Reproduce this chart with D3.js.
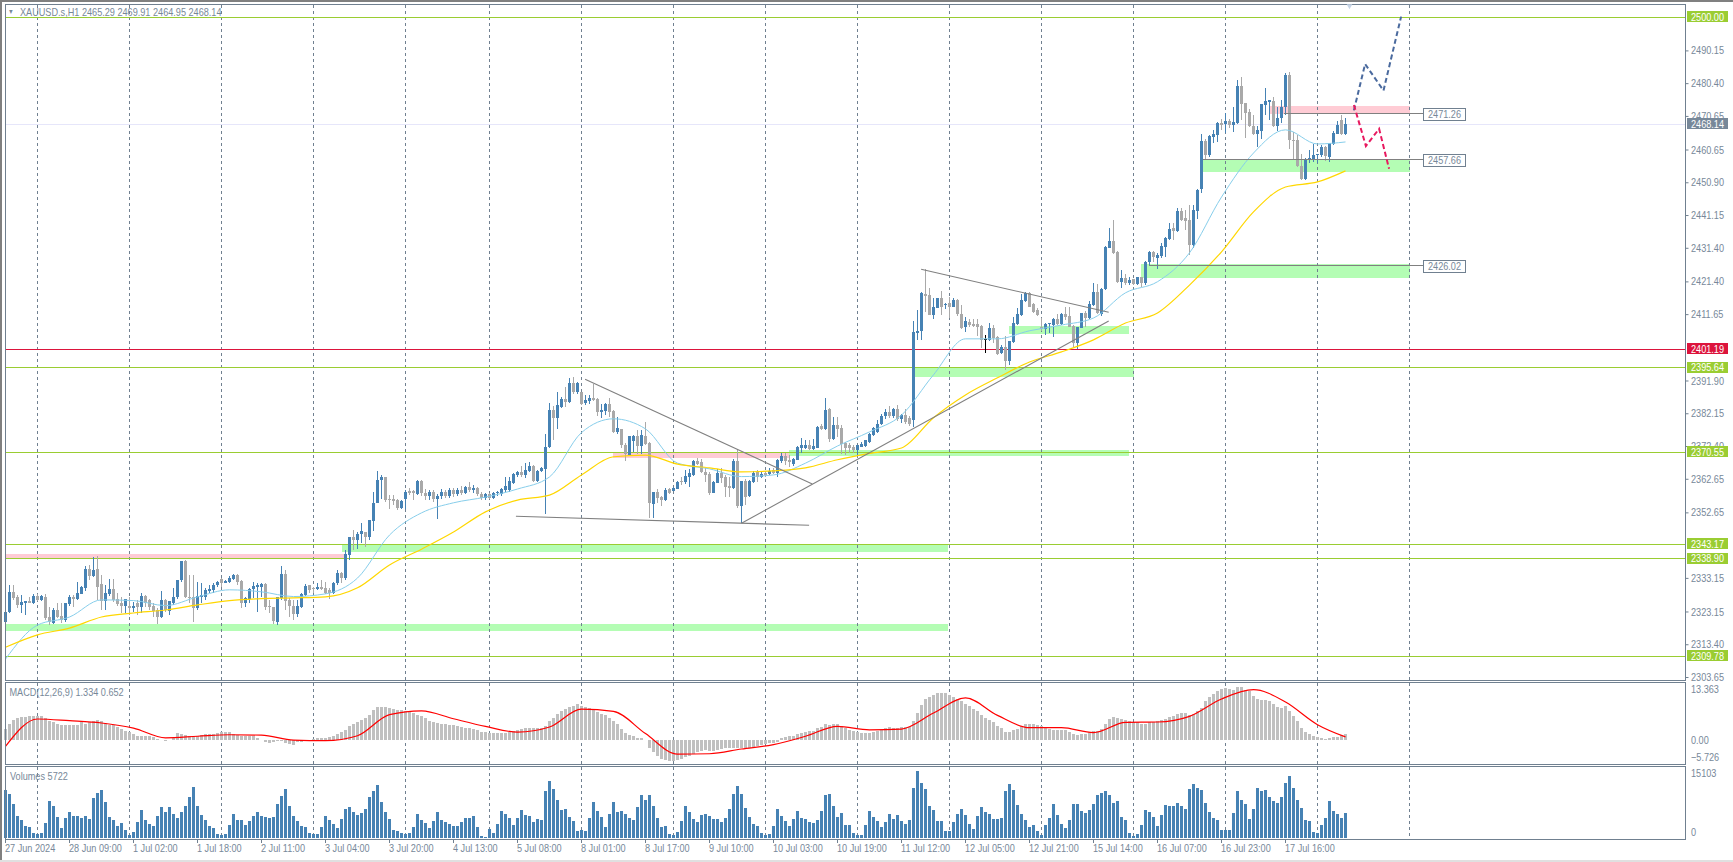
<!DOCTYPE html>
<html>
<head>
<meta charset="utf-8">
<script src="https://cdn.jsdelivr.net/npm/d3@7"></script>
<style>
  html, body { margin: 0; padding: 0; background: #fff; overflow: hidden; }
  text { font-family: "Liberation Sans", sans-serif; font-size: 11px; fill: #778899; }
</style>
</head>
<body>
<script>
// XAUUSD.s H1 rows: open, high, low, close, one row per bar
var candles = [
[2320.1,2323.1,2318.5,2323.1],[2323.1,2331.0,2322.6,2328.9],[2328.9,2331.0,2326.6,2327.3],[2327.6,2328.1,2324.1,2325.1],
[2325.1,2328.1,2322.6,2325.9],[2325.8,2326.2,2322.1,2326.2],[2326.2,2327.6,2325.6,2325.7],[2325.7,2328.4,2325.4,2327.8],
[2327.8,2328.4,2326.4,2326.6],[2326.6,2328.1,2326.4,2327.8],[2327.4,2328.4,2320.6,2321.3],[2321.6,2324.4,2319.1,2320.1],
[2319.8,2324.1,2319.4,2323.6],[2323.6,2325.6,2321.1,2321.6],[2321.8,2325.6,2319.8,2320.6],[2320.6,2325.8,2320.1,2325.8],
[2325.4,2328.1,2324.9,2327.6],[2327.4,2328.1,2324.6,2326.9],[2326.8,2332.0,2326.6,2328.8],[2328.4,2330.6,2328.4,2330.4],
[2330.2,2336.7,2329.1,2335.8],[2335.7,2337.0,2332.5,2333.7],[2333.7,2339.5,2333.5,2335.5],[2335.7,2339.7,2326.6,2330.3],
[2331.3,2334.0,2323.6,2326.4],[2326.4,2331.0,2323.6,2328.6],[2328.4,2332.7,2327.8,2329.9],[2329.9,2332.7,2326.1,2326.6],
[2326.8,2328.6,2324.9,2325.4],[2325.6,2327.6,2322.6,2324.9],[2324.9,2326.8,2322.6,2326.8],[2324.9,2327.6,2322.1,2324.3],
[2324.2,2326.1,2323.1,2324.8],[2325.6,2326.6,2322.1,2324.6],[2324.6,2328.6,2322.6,2327.8],[2327.8,2328.1,2324.6,2325.6],
[2326.6,2326.8,2323.6,2324.6],[2324.8,2325.6,2321.6,2323.4],[2323.6,2324.1,2319.3,2321.6],[2321.6,2329.1,2321.1,2326.6],
[2326.6,2326.8,2323.1,2323.6],[2323.4,2326.4,2322.1,2326.2],[2325.6,2330.1,2325.1,2327.6],[2327.4,2332.5,2326.8,2332.5],
[2332.5,2338.3,2332.0,2338.3],[2338.3,2338.5,2327.1,2327.4],[2327.6,2334.0,2325.6,2327.1],[2327.6,2334.0,2320.1,2324.1],
[2324.1,2332.0,2323.6,2327.8],[2327.6,2331.7,2325.6,2328.1],[2327.6,2330.1,2326.6,2329.4],[2329.1,2331.0,2328.6,2329.9],
[2329.6,2331.5,2328.8,2331.0],[2330.9,2332.3,2330.5,2332.0],[2332.7,2333.0,2330.5,2331.5],[2331.7,2332.5,2331.5,2332.2],
[2332.0,2333.7,2331.7,2333.1],[2332.7,2334.3,2332.5,2334.1],[2334.1,2334.3,2331.0,2332.0],[2332.2,2332.5,2324.1,2325.6],
[2325.8,2327.6,2324.6,2327.1],[2326.8,2330.1,2325.6,2329.9],[2329.8,2332.0,2327.1,2330.7],[2330.3,2331.5,2323.1,2330.9],
[2330.4,2331.5,2327.6,2331.2],[2331.2,2331.5,2323.6,2324.6],[2324.8,2326.6,2322.6,2324.4],[2324.4,2324.4,2319.3,2320.3],
[2320.1,2327.6,2319.1,2327.4],[2327.1,2336.7,2326.6,2334.3],[2334.3,2335.5,2323.6,2326.4],[2326.6,2327.1,2321.6,2324.8],
[2324.9,2326.6,2320.6,2322.4],[2322.4,2326.6,2321.6,2324.8],[2324.6,2328.8,2324.3,2328.4],[2328.1,2331.3,2327.8,2330.7],
[2330.9,2331.0,2328.6,2329.4],[2330.2,2330.3,2328.6,2329.9],[2329.9,2331.5,2329.6,2330.5],[2330.3,2332.5,2329.6,2329.9],
[2330.1,2332.0,2328.4,2328.6],[2329.4,2330.1,2326.8,2328.6],[2328.8,2332.0,2328.4,2331.5],[2331.5,2335.5,2331.0,2334.7],
[2334.7,2335.0,2331.5,2333.0],[2333.0,2341.5,2332.5,2340.3],[2340.0,2345.2,2338.5,2345.2],[2345.2,2347.4,2341.5,2344.4],
[2344.4,2346.9,2341.7,2346.2],[2346.2,2349.4,2343.5,2347.0],[2346.8,2346.8,2342.3,2345.2],[2345.2,2350.4,2344.4,2350.4],
[2350.2,2358.8,2347.2,2355.5],[2355.5,2365.0,2355.4,2362.3],[2362.3,2363.8,2356.5,2363.2],[2363.2,2363.3,2355.8,2356.3],
[2356.5,2357.8,2353.7,2356.3],[2356.5,2357.8,2354.9,2355.9],[2356.3,2356.5,2353.4,2354.0],[2354.0,2356.3,2353.7,2356.1],
[2356.5,2359.3,2353.6,2358.8],[2359.0,2359.8,2357.8,2358.5],[2359.1,2359.3,2356.3,2358.3],[2358.1,2362.3,2357.8,2362.1],
[2362.1,2362.3,2357.5,2358.5],[2358.5,2359.6,2356.2,2357.6],[2357.6,2359.4,2356.4,2358.7],[2358.7,2359.2,2355.6,2356.6],
[2356.6,2358.2,2350.6,2357.6],[2357.6,2359.6,2356.6,2358.8],[2358.8,2359.2,2356.8,2357.4],[2357.4,2359.8,2356.9,2359.2],
[2359.2,2360.0,2357.2,2358.0],[2358.0,2360.0,2357.4,2359.4],[2359.4,2360.5,2357.8,2358.4],[2358.4,2360.4,2358.0,2360.1],
[2360.3,2361.8,2358.6,2359.2],[2359.2,2360.8,2358.4,2360.0],[2360.0,2360.3,2357.6,2358.0],[2358.0,2358.8,2356.2,2356.9],
[2356.9,2358.4,2356.2,2358.0],[2358.0,2358.5,2356.5,2357.0],[2357.0,2358.8,2356.6,2358.4],[2358.4,2359.0,2357.6,2358.8],
[2358.2,2360.0,2357.6,2359.5],[2359.3,2363.2,2358.6,2360.5],[2359.3,2363.2,2358.8,2362.1],[2361.5,2364.4,2361.0,2364.0],
[2363.8,2365.0,2363.3,2364.7],[2364.7,2366.4,2363.3,2363.8],[2363.8,2367.4,2362.8,2365.2],[2365.0,2367.7,2364.7,2366.5],
[2366.5,2366.7,2361.8,2362.0],[2362.0,2365.2,2361.8,2365.0],[2364.9,2366.2,2364.6,2365.8],[2365.7,2376.1,2352.2,2372.2],
[2372.0,2385.3,2371.7,2383.1],[2383.1,2384.3,2374.2,2380.6],[2380.6,2388.5,2377.6,2384.6],[2384.1,2387.1,2383.8,2386.4],
[2386.4,2390.0,2384.1,2385.4],[2385.4,2392.7,2385.1,2391.2],[2391.2,2392.9,2388.0,2388.4],[2388.4,2391.5,2387.8,2391.2],
[2388.5,2388.5,2384.6,2384.9],[2385.1,2387.6,2384.6,2386.1],[2385.8,2387.6,2384.9,2386.7],[2386.6,2391.0,2385.9,2386.1],
[2386.4,2386.8,2381.3,2382.6],[2382.6,2384.9,2380.6,2383.1],[2382.8,2385.1,2381.6,2384.9],[2384.9,2386.6,2381.1,2382.6],
[2382.8,2383.1,2376.4,2376.6],[2376.6,2380.9,2376.1,2377.7],[2377.6,2377.6,2371.7,2372.7],[2372.7,2373.2,2368.0,2370.0],
[2369.7,2375.4,2369.4,2375.4],[2373.9,2375.7,2370.7,2375.5],[2375.4,2377.3,2370.0,2372.4],[2372.4,2377.1,2370.0,2375.6],
[2375.4,2379.4,2372.7,2373.0],[2373.2,2373.5,2351.1,2355.3],[2355.1,2358.8,2351.0,2358.7],[2358.7,2359.5,2355.3,2356.9],
[2357.1,2357.5,2354.5,2356.3],[2356.3,2359.8,2356.0,2359.3],[2359.5,2359.8,2358.2,2358.5],[2359.1,2360.3,2358.9,2359.9],
[2359.7,2362.1,2359.5,2361.7],[2361.9,2363.3,2360.7,2361.7],[2361.6,2365.3,2361.1,2363.6],[2363.3,2365.5,2360.3,2364.3],
[2363.8,2368.2,2363.5,2367.8],[2367.8,2368.9,2366.8,2367.1],[2367.5,2368.4,2364.3,2364.6],[2364.8,2365.8,2361.8,2363.8],
[2364.1,2364.8,2357.8,2358.5],[2358.5,2362.1,2358.3,2361.8],[2361.5,2365.5,2361.3,2364.5],[2364.5,2365.8,2361.5,2362.9],
[2363.1,2363.8,2357.1,2360.3],[2360.5,2363.3,2357.1,2359.8],[2359.8,2368.4,2359.6,2367.8],[2367.8,2371.4,2353.9,2354.6],
[2354.6,2362.1,2349.4,2362.1],[2362.1,2362.5,2354.9,2357.1],[2357.5,2362.3,2357.3,2362.1],[2361.8,2365.1,2361.5,2364.5],
[2364.8,2365.3,2361.8,2363.3],[2363.1,2364.8,2362.8,2364.0],[2364.3,2365.0,2363.1,2363.8],[2364.1,2365.8,2363.8,2365.1],
[2365.3,2366.0,2364.1,2364.3],[2364.3,2368.4,2363.1,2368.2],[2367.8,2370.4,2367.4,2369.4],[2369.4,2370.2,2366.8,2367.8],
[2368.2,2369.7,2366.3,2367.5],[2367.0,2368.7,2366.5,2368.5],[2368.3,2372.4,2368.1,2372.0],[2371.9,2374.7,2370.4,2372.7],
[2371.7,2374.2,2371.4,2372.7],[2372.7,2374.2,2371.2,2371.5],[2371.4,2374.4,2371.2,2372.4],[2371.8,2378.4,2371.7,2378.2],
[2378.3,2379.1,2377.1,2377.4],[2377.6,2386.6,2377.3,2383.1],[2383.3,2383.6,2373.7,2374.4],[2374.4,2380.9,2374.2,2378.6],
[2378.6,2380.9,2375.2,2377.4],[2377.9,2378.7,2370.0,2373.0],[2373.2,2373.7,2369.7,2371.7],[2372.7,2373.2,2370.2,2371.7],
[2372.0,2372.7,2370.2,2371.2],[2371.2,2372.7,2369.7,2372.7],[2372.2,2373.7,2372.0,2373.0],[2372.4,2374.2,2372.0,2374.2],
[2373.7,2376.2,2373.2,2376.0],[2375.7,2378.2,2375.4,2377.7],[2376.7,2380.2,2376.4,2379.0],[2379.0,2381.8,2378.6,2381.2],
[2381.2,2383.4,2380.4,2382.6],[2382.6,2384.2,2380.6,2381.2],[2381.2,2383.8,2380.8,2383.4],[2383.4,2384.6,2379.8,2380.4],
[2380.4,2382.0,2379.2,2381.6],[2381.6,2383.4,2379.0,2379.6],[2380.6,2381.4,2378.4,2378.9],[2380.0,2409.7,2378.0,2406.2],
[2406.1,2412.9,2404.0,2406.5],[2406.7,2418.1,2404.0,2417.9],[2417.7,2425.0,2412.4,2417.0],[2417.3,2419.3,2411.4,2411.5],
[2411.4,2416.6,2410.1,2413.9],[2413.6,2416.6,2413.4,2416.6],[2416.6,2418.5,2411.4,2413.9],[2414.4,2415.1,2413.1,2414.7],
[2415.1,2416.8,2410.4,2413.9],[2413.9,2416.4,2413.7,2415.9],[2415.9,2416.3,2411.1,2411.7],[2411.7,2414.4,2407.1,2407.4],
[2407.7,2410.9,2406.4,2409.6],[2409.4,2410.1,2407.9,2408.4],[2408.7,2410.1,2407.7,2408.1],[2408.7,2410.1,2405.0,2407.9],
[2408.2,2408.4,2401.5,2404.0],[2404.2,2405.4,2400.2,2404.2],[2404.0,2408.9,2403.8,2407.6],[2407.6,2408.4,2403.0,2404.5],
[2404.7,2405.1,2399.5,2399.8],[2400.0,2402.5,2399.7,2401.8],[2402.0,2405.0,2395.0,2397.8],[2397.8,2403.8,2396.5,2403.8],
[2403.4,2410.9,2403.2,2408.9],[2408.7,2413.4,2408.4,2411.7],[2411.4,2417.7,2411.1,2415.9],[2415.6,2418.3,2415.4,2418.0],
[2418.0,2418.3,2413.7,2413.9],[2414.7,2414.9,2411.9,2412.4],[2412.9,2413.4,2411.1,2411.4],[2407.9,2410.4,2406.7,2407.1],
[2407.1,2408.9,2405.4,2408.6],[2408.6,2409.1,2406.1,2408.9],[2408.4,2410.4,2404.8,2410.1],[2410.1,2411.7,2408.4,2408.7],
[2408.7,2412.1,2408.4,2411.7],[2411.7,2413.7,2409.9,2410.9],[2411.1,2413.7,2407.7,2407.9],[2408.1,2408.4,2401.8,2403.2],
[2403.2,2407.9,2401.2,2407.7],[2407.6,2411.9,2407.4,2411.9],[2412.1,2412.7,2407.7,2410.4],[2410.4,2415.7,2410.2,2414.7],
[2414.4,2420.8,2414.2,2418.3],[2418.3,2420.6,2411.7,2411.9],[2411.7,2419.5,2411.1,2419.2],[2419.0,2432.0,2418.8,2431.7],
[2431.4,2437.4,2431.2,2433.4],[2433.4,2439.7,2429.5,2429.8],[2430.2,2430.3,2421.0,2421.3],[2421.1,2424.8,2419.5,2422.5],
[2422.4,2423.6,2420.3,2420.8],[2420.8,2422.6,2420.3,2421.8],[2422.2,2422.2,2420.3,2420.6],[2420.6,2422.8,2420.3,2422.6],
[2422.6,2422.8,2419.8,2420.8],[2420.8,2427.6,2420.3,2427.3],[2427.1,2430.3,2426.0,2430.2],[2430.2,2430.5,2427.3,2428.8],
[2428.3,2429.8,2425.0,2429.3],[2429.0,2432.9,2428.3,2431.9],[2431.7,2434.7,2428.8,2434.2],[2433.9,2438.7,2433.7,2437.0],
[2437.2,2438.7,2433.7,2436.5],[2436.5,2443.1,2436.2,2442.4],[2442.3,2443.1,2439.5,2439.7],[2440.3,2442.6,2436.7,2439.5],
[2439.7,2444.1,2429.3,2432.2],[2432.2,2444.1,2431.2,2442.6],[2442.4,2449.0,2440.0,2448.6],[2448.9,2465.3,2447.8,2463.2],
[2463.2,2463.8,2457.5,2459.0],[2459.0,2465.0,2458.5,2464.7],[2464.3,2466.5,2462.5,2465.3],[2465.0,2468.8,2463.0,2468.6],
[2468.4,2469.6,2466.5,2468.0],[2468.2,2471.4,2465.7,2469.0],[2469.0,2469.6,2467.0,2468.0],[2468.0,2473.2,2466.0,2468.8],
[2468.5,2481.3,2468.3,2479.6],[2479.6,2482.1,2469.4,2474.2],[2474.4,2474.6,2464.0,2471.6],[2471.9,2472.6,2467.3,2467.7],
[2467.7,2470.9,2465.0,2465.3],[2465.3,2467.7,2461.5,2466.5],[2466.3,2474.2,2463.7,2474.2],[2473.9,2478.9,2470.9,2475.1],
[2474.9,2475.4,2469.4,2475.4],[2475.1,2476.2,2467.3,2467.7],[2467.7,2473.4,2466.3,2470.1],[2469.9,2475.4,2468.4,2473.4],
[2473.2,2483.5,2471.0,2482.8],[2482.8,2483.8,2460.7,2463.5],[2463.5,2466.0,2457.7,2463.2],[2463.5,2465.0,2455.4,2455.6],
[2455.8,2459.3,2451.5,2452.0],[2452.0,2458.2,2451.5,2457.8],[2457.8,2460.5,2456.5,2458.0],[2457.5,2462.2,2456.8,2459.0],
[2458.9,2459.3,2456.5,2459.3],[2459.0,2461.9,2458.5,2461.5],[2461.5,2461.7,2457.2,2458.7],[2458.5,2462.5,2457.0,2462.5],
[2462.3,2466.3,2462.0,2465.6],[2465.4,2469.0,2465.2,2467.9],[2469.5,2470.8,2464.9,2465.3],[2465.29,2469.91,2464.95,2468.14]
];

// moving averages and MACD signal, read every 8th bar plus the last one
var sampleBars = d3.range(0, 336, 8).concat([335]);
var fastMa = [2309.0,2319.1,2321.5,2326.6,2326.4,2324.9,2327.5,2329.6,2329.0,2327.6,2328.4,2333.1,2345.9,2352.5,2355.5,2357.2,2359.6,2363.2,2376.4,2380.5,2377.5,2367.3,2365.6,2363.3,2363.8,2367.3,2372.4,2376.6,2381.6,2393.6,2404.3,2404.3,2406.7,2408.4,2410.5,2418.0,2421.3,2429.9,2446.5,2459.6,2466.5,2462.3,2462.9];
var slowMa = [2312.5,2316.2,2318.2,2321.5,2322.7,2323.6,2325.1,2326.4,2327.0,2327.2,2327.5,2330.2,2337.0,2341.7,2346.8,2352.8,2356.3,2357.8,2363.8,2369.2,2369.7,2367.0,2365.9,2364.7,2365.0,2365.9,2368.3,2370.2,2371.8,2380.8,2387.6,2392.7,2397.4,2400.4,2404.0,2409.0,2412.0,2420.3,2430.2,2442.1,2449.5,2451.0,2454.3];
var macdSignal = [-1.55,4.82,4.42,3.89,2.7,0.44,0.8,1.15,1.06,-0.09,-0.22,0.93,5.84,6.73,4.87,3.1,1.77,2.96,7.12,6.59,1.42,-3.36,-3.27,-2.17,-1.15,0.8,3.1,2.3,2.48,6.2,9.73,5.66,2.79,2.79,1.64,4.03,4.12,5.44,9.47,11.64,8.76,3.5,0.65];

var macdHist = [
2.48,3.65,4.66,5.04,5.35,5.35,5.59,5.59,5.59,5.59,4.97,4.35,4.04,3.73,3.49,3.49,3.49,3.49,3.49,4.04,3.73,4.04,4.35,4.66,4.35,3.88,3.49,3.49,2.95,2.48,2.02,1.71,
1.24,0.93,0.93,0.93,0.78,0.54,0.16,-0.16,-0.23,-0.08,0.39,1.55,1.24,1.09,0.93,0.78,0.93,1.09,1.24,1.4,1.4,1.55,1.71,1.86,1.86,1.4,1.01,0.93,0.93,0.93,0.78,0.47,
0,-0.54,-0.7,-0.47,-0.39,-0.23,-0.78,-1.01,-1.16,-0.62,-0.54,-0.16,0,0.23,0.39,0.47,0.47,0.7,0.85,1.24,1.86,2.33,3.1,3.73,4.04,4.66,5.12,5.74,6.83,7.68,7.68,7.68,
7.37,7.14,6.83,6.83,6.6,6.44,6.21,5.82,5.43,5.04,4.35,4.04,3.88,3.57,3.57,3.49,3.41,3.1,2.95,2.79,2.64,2.48,2.17,1.86,1.86,1.63,1.63,1.63,1.55,1.55,1.79,2.02,
2.33,2.56,2.79,2.79,2.79,2.79,2.79,3.26,4.42,5.12,6.05,6.75,7.22,7.68,7.92,8.38,7.92,7.68,7.45,7.14,6.52,6.05,5.82,5.12,4.42,3.73,2.56,1.63,1.16,0.93,0.47,0.31,
-0.08,-1.86,-2.79,-3.73,-4.42,-4.66,-4.89,-4.89,-4.66,-4.42,-3.96,-3.73,-3.26,-2.79,-2.56,-2.33,-2.56,-2.56,-2.33,-2.1,-1.86,-1.86,-1.86,-1.86,-1.86,-1.86,-1.86,-1.63,-1.4,-1.16,-0.93,-0.7,
-0.7,-0.47,0.39,0.7,0.93,0.93,1.4,1.63,1.86,2.1,2.1,2.79,3.03,3.73,3.49,3.73,3.73,3.26,2.79,2.33,2.1,1.86,1.63,1.63,1.63,1.86,2.1,2.33,2.79,3.03,2.79,2.79,
3.03,3.03,3.03,4.42,6.29,8.15,9.55,10.01,10.48,10.94,10.94,10.94,10.48,10.01,9.55,9.08,8.38,7.92,7.22,6.75,5.82,5.12,4.66,4.19,3.26,2.79,1.86,1.86,2.17,2.48,3.26,3.73,
3.73,3.73,3.49,3.1,2.79,2.48,2.33,2.17,2.17,2.17,1.86,1.24,1.16,1.4,1.4,1.71,2.1,2.1,2.48,3.73,4.89,5.28,5.04,4.89,4.66,4.42,4.04,4.04,3.73,3.57,4.04,4.19,
4.42,4.66,4.81,5.28,5.43,6.05,6.29,6.29,5.82,6.05,6.75,7.37,9.08,9.93,10.71,11.33,11.87,12.03,11.87,11.64,12.34,12.34,11.64,11.25,10.24,9.55,9.31,9.31,9.08,8.38,7.68,7.45,
7.92,6.75,5.59,4.27,2.79,1.86,1.4,0.93,0.7,0.39,0.23,0.31,0.7,0.7,1.16,1.33
];

var volumes = [
10950,9900,7650,4950,4200,2700,2475,1125,900,1125,3375,8325,7200,4725,2250,4500,5850,4950,4950,4500,4950,4275,9000,10125,10800,8100,4725,4050,2700,3375,1800,675,
1350,3600,6300,4050,3150,2700,4950,6975,5850,6975,5400,4500,5850,7200,9225,11475,7200,5175,4050,2700,2250,900,675,900,2925,5400,4050,4050,2925,3825,4950,5850,
4950,4725,4500,4725,7650,9450,11025,7200,4950,3825,2700,2475,1125,900,900,2475,4950,4050,3150,2250,4275,6525,6975,5850,5175,5625,6525,9225,10575,11925,8100,5850,
4275,1800,1575,1125,900,1125,2475,5400,4050,3375,2250,3825,5850,4050,3600,3150,2700,2700,3600,4500,4500,4950,2475,450,225,2025,1125,3150,6075,5400,4500,2925,
4500,6300,5175,4950,3600,4275,4050,10575,12825,11025,8550,6300,6525,4725,3825,1575,1800,1575,4500,8100,6075,4725,2475,5400,8100,5850,6075,5400,4500,4050,6975,9675,
8550,9675,7200,4500,2475,2700,900,675,1350,3825,7200,5850,4275,3600,5175,5400,4950,4275,4275,3600,4500,6525,9900,11700,9900,6750,4725,3150,2700,1125,675,900,
2700,6525,4950,3825,2700,4275,6075,4500,4275,3600,3375,4050,6075,9675,9900,7200,4725,5625,2925,2925,1125,675,675,2925,6075,4725,3825,2475,3600,5400,4275,5175,
3825,3150,4050,11250,15103,12375,11025,7200,6300,3825,3825,1575,1575,3600,5400,6525,5175,3150,2025,4950,6975,5850,5400,4275,4275,4500,10575,12150,10800,7425,5400,4050,
2475,2925,1575,675,2925,4500,7650,5175,3150,2250,4050,7650,7650,6075,5625,6300,7650,9675,10125,10575,9675,7875,8325,4725,4050,1125,450,900,2925,6300,5850,4725,
2700,5175,7425,7200,7200,7875,7200,6525,11025,12150,11250,10800,7875,5850,4500,4050,1800,1800,1800,5625,10575,8550,7650,4275,6525,11250,10575,10800,9225,8325,7875,9225,
12375,13950,11250,8550,6750,4050,3825,1350,1125,2925,4500,8325,6075,5400,4500,5722
];

// price axis and date axis labels
var priceTicks = [2490.15,2480.40,2470.65,2460.65,2450.90,2441.15,2431.40,2421.40,2411.65,2391.90,2382.15,2372.40,2362.65,2352.65,2333.15,2323.15,2313.40,2303.65];
var dateLabels = ["27 Jun 2024","28 Jun 09:00","1 Jul 02:00","1 Jul 18:00","2 Jul 11:00","3 Jul 04:00","3 Jul 20:00","4 Jul 13:00","5 Jul 08:00","8 Jul 01:00","8 Jul 17:00","9 Jul 10:00","10 Jul 03:00","10 Jul 19:00","11 Jul 12:00","12 Jul 05:00","12 Jul 21:00","15 Jul 14:00","16 Jul 07:00","16 Jul 23:00","17 Jul 16:00"];
var separatorBars = [8,31,54,77,100,121,144,167,190,213,236,259,282,305,328,351];

// horizontal levels: price, colour
var levelPrices = [2500.00,2395.64,2370.55,2343.17,2338.90,2309.78,2401.19];
var levelColors = ["#9acd32","#9acd32","#9acd32","#9acd32","#9acd32","#9acd32","#dc143c"];
var lastPrice = 2468.14;

// zones: bar from, bar to, price top, price bottom, colour
var zoneRows = [
  [-0.2,84.9,2340.3,2338.7,"#ffccd5"],[-0.2,235.6,2319.4,2317.4,"#b4fdb4"],[84,235.6,2343.2,2341.0,"#b4fdb4"],
  [151.9,195.9,2370.55,2368.9,"#ffccd5"],[195.9,280.8,2371.2,2369.4,"#b4fdb4"],[227.4,282,2395.6,2393.0,"#b4fdb4"],
  [250.9,280.9,2408.2,2405.7,"#b4fdb4"],[283.9,351,2426.6,2422.4,"#b4fdb4"],[299.3,351,2457.7,2454.0,"#b4fdb4"],
  [316,351,2473.6,2471.26,"#ffccd5"]
];

// labelled levels with their box: bar from, price
var labelLevels = [[285.9,2426.02],[299.3,2457.66],[319.6,2471.26]];

// hand drawn lines as bar, price pairs
var trendLines = [
  [[144.9,2392.3],[201.7,2361.1]],[[127.6,2351.5],[200.9,2348.8]],
  [[184,2349.4],[275.8,2409.6]],[[228.9,2425],[275.8,2412.2]]
];
var bullPath = [[337.1,2472.3],[339.9,2486.1],[344.5,2478.2],[348.9,2500.2]];
var bearPath = [[337.1,2473.9],[340.1,2461.7],[343.4,2466.8],[345.9,2454.9]];

var W = 1733, H = 862, axisX = 1685.5;
var svg = d3.select("body").append("svg").attr("width", W).attr("height", H).style("display", "block");
svg.append("rect").attr("width", W).attr("height", H).attr("fill", "#fff");

var x = d3.scaleLinear().domain([0, 336]).range([5.5, 1349.5]);
var y = d3.scaleLinear().domain([2500, 2303.65]).range([17.3, 677]);
var yMacd = d3.scaleLinear().domain([13.363, -5.726]).range([682.3, 764.3]);
var yVol = d3.scaleLinear().domain([0, 15103]).range([838.4, 771]);

var SLATE = "#708090", BULL = "#4682b4", BEAR = "#a9a9a9";

// zones go under everything
svg.append("g").selectAll("rect").data(zoneRows).join("rect")
    .attr("x", function(d) { return x(d[0]); })
    .attr("y", function(d) { return y(d[2]); })
    .attr("width", function(d) { return x(d[1]) - x(d[0]); })
    .attr("height", function(d) { return y(d[3]) - y(d[2]); })
    .attr("fill", function(d) { return d[4]; })
    .attr("shape-rendering", "crispEdges");

// day separators
svg.append("g").selectAll("line").data(separatorBars).join("line")
    .attr("x1", function(d) { return x(d) - 0.2; })
    .attr("x2", function(d) { return x(d) - 0.2; })
    .attr("y1", 5).attr("y2", 840)
    .attr("stroke", SLATE).attr("stroke-dasharray", "3,3")
    .attr("shape-rendering", "crispEdges");

// horizontal levels
svg.append("line").attr("x1", 5).attr("x2", axisX)
    .attr("y1", y(lastPrice)).attr("y2", y(lastPrice))
    .attr("stroke", "#e6e6fa").attr("shape-rendering", "crispEdges");
svg.append("g").selectAll("line").data(levelPrices).join("line")
    .attr("x1", 5).attr("x2", axisX)
    .attr("y1", function(d) { return y(d); })
    .attr("y2", function(d) { return y(d); })
    .attr("stroke", function(d, i) { return levelColors[i]; })
    .attr("shape-rendering", "crispEdges");

// candles
var candleGroup = svg.append("g").attr("shape-rendering", "crispEdges");
function candleColor(d) {
    if (d[0] === d[3]) return "#000";
    return d[3] > d[0] ? BULL : BEAR;
}
candleGroup.selectAll("rect.wick").data(candles).join("rect").attr("class", "wick")
    .attr("x", function(d, i) { return Math.floor(x(i)); })
    .attr("width", 1)
    .attr("y", function(d) { return y(d[1]); })
    .attr("height", function(d) { return Math.max(1, y(d[2]) - y(d[1])); })
    .attr("fill", candleColor);
candleGroup.selectAll("rect.body").data(candles).join("rect").attr("class", "body")
    .attr("x", function(d, i) { return Math.floor(x(i)) - 1; })
    .attr("width", 3)
    .attr("y", function(d) { return y(Math.max(d[0], d[3])); })
    .attr("height", function(d) { return Math.max(1, Math.abs(y(d[0]) - y(d[3]))); })
    .attr("fill", candleColor);

// moving averages
var maLine = d3.line()
    .x(function(d, i) { return x(sampleBars[i]); })
    .y(function(d) { return y(d); })
    .curve(d3.curveMonotoneX);
svg.append("path").attr("d", maLine(fastMa)).attr("fill", "none").attr("stroke", "#87ceeb").attr("stroke-width", 1);
svg.append("path").attr("d", maLine(slowMa)).attr("fill", "none").attr("stroke", "#ffd700").attr("stroke-width", 1.2);

// trend lines
var pairLine = d3.line().x(function(d) { return x(d[0]); }).y(function(d) { return y(d[1]); });
svg.append("g").selectAll("path").data(trendLines).join("path")
    .attr("d", pairLine).attr("fill", "none").attr("stroke", "#808080").attr("stroke-width", 1.1);

// labelled levels
var boxX = 1423, boxW = 42;
var labelGroup = svg.append("g").selectAll("g").data(labelLevels).join("g");
labelGroup.append("line")
    .attr("x1", function(d) { return x(d[0]); }).attr("x2", boxX)
    .attr("y1", function(d) { return y(d[1]); }).attr("y2", function(d) { return y(d[1]); })
    .attr("stroke", "#808080").attr("stroke-width", 1).attr("shape-rendering", "crispEdges");
labelGroup.append("rect")
    .attr("x", boxX + 0.5).attr("width", boxW)
    .attr("y", function(d) { return y(d[1]) - 5.5; }).attr("height", 12)
    .attr("fill", "#fff").attr("stroke", SLATE).attr("shape-rendering", "crispEdges");
labelGroup.append("text")
    .attr("x", boxX + 21.5).attr("text-anchor", "middle")
    .attr("y", function(d) { return y(d[1]) + 4.5; })
    .text(function(d) { return d[1].toFixed(2); });

// forecast paths
svg.append("path").attr("d", pairLine(bullPath)).attr("fill", "none")
    .attr("stroke", "#4a6a9e").attr("stroke-width", 2).attr("stroke-dasharray", "5,3");
svg.append("path").attr("d", pairLine(bearPath)).attr("fill", "none")
    .attr("stroke", "#e8195f").attr("stroke-width", 2).attr("stroke-dasharray", "5,3");

// MACD panel
svg.append("g").attr("shape-rendering", "crispEdges").selectAll("rect").data(macdHist).join("rect")
    .attr("x", function(d, i) { return Math.floor(x(i)) - 1; })
    .attr("width", 3)
    .attr("y", function(d) { return Math.min(yMacd(d), yMacd(0)); })
    .attr("height", function(d) { return Math.abs(yMacd(d) - yMacd(0)); })
    .attr("fill", "#c0c0c0");
var signalLine = d3.line()
    .x(function(d, i) { return x(sampleBars[i]); })
    .y(function(d) { return yMacd(d); })
    .curve(d3.curveMonotoneX);
svg.append("path").attr("d", signalLine(macdSignal)).attr("fill", "none").attr("stroke", "#ff0000").attr("stroke-width", 1.2);

// volume panel
svg.append("g").attr("shape-rendering", "crispEdges").selectAll("rect").data(volumes).join("rect")
    .attr("x", function(d, i) { return Math.floor(x(i)) - 1; })
    .attr("width", 3)
    .attr("y", function(d) { return yVol(d); })
    .attr("height", function(d) { return yVol(0) - yVol(d); })
    .attr("fill", BULL);

// panel frames
[[4.5, 680.5], [682.5, 764.5], [766.5, 839.5]].forEach(function(p) {
    svg.append("rect").attr("x", 5).attr("y", p[0]).attr("width", axisX - 5).attr("height", p[1] - p[0])
        .attr("fill", "none").attr("stroke", SLATE).attr("shape-rendering", "crispEdges");
});
svg.append("rect").attr("x", 0).attr("y", 0).attr("width", W).attr("height", 2).attr("fill", "#808080");
svg.append("rect").attr("x", 0).attr("y", 0).attr("width", 2).attr("height", H).attr("fill", "#808080");
svg.append("rect").attr("x", 0).attr("y", 860).attr("width", W).attr("height", 2).attr("fill", "#e0e0e0");

// chart shift marker on the top frame
svg.append("path")
    .attr("d", d3.symbol().type(d3.symbolTriangle).size(14))
    .attr("transform", "translate(" + x(336) + ",6) rotate(180)")
    .attr("fill", "#c6d4e6");

// price axis
var priceAxis = d3.axisRight(y).tickValues(priceTicks).tickFormat(d3.format(".2f")).tickSize(3).tickPadding(2.5);
var priceG = svg.append("g").attr("transform", "translate(" + axisX + ",0)").call(priceAxis);
priceG.select(".domain").remove();
priceG.selectAll("line").attr("stroke", SLATE);
priceG.attr("font-family", null).attr("font-size", null);

// price tags on the axis
var tags = levelPrices.map(function(p, i) { return [p, levelColors[i]]; }).concat([[lastPrice, "#778899"]]);
var tagGroup = svg.append("g").selectAll("g").data(tags).join("g");
tagGroup.append("rect")
    .attr("x", 1687).attr("width", 41)
    .attr("y", function(d) { return y(d[0]) - 6; }).attr("height", 11)
    .attr("fill", function(d) { return d[1]; })
    .attr("shape-rendering", "crispEdges");
tagGroup.append("text")
    .attr("x", 1691)
    .attr("y", function(d) { return y(d[0]) + 3.5; })
    .style("fill", "#fff")
    .text(function(d) { return d[0].toFixed(2); });

// indicator axes, labels are kept inside the panel
var macdLabels = [13.363, 0, -5.726];
svg.append("g").selectAll("text").data(macdLabels).join("text")
    .attr("x", 1691)
    .attr("y", function(d) { return Math.max(692.5, Math.min(761, yMacd(d) + 4)); })
    .text(function(d) { return d === 0 ? "0.00" : d3.format(".3f")(d); });
var volLabels = [15103, 0];
svg.append("g").selectAll("text").data(volLabels).join("text")
    .attr("x", 1691)
    .attr("y", function(d) { return d === 0 ? 836 : yVol(d) + 6; })
    .text(function(d) { return d; });

// date axis
var dateBars = dateLabels.map(function(d, i) { return i * 16; });
var dateG = svg.append("g").selectAll("g").data(dateLabels).join("g");
dateG.append("line")
    .attr("x1", function(d, i) { return Math.floor(x(dateBars[i])); })
    .attr("x2", function(d, i) { return Math.floor(x(dateBars[i])); })
    .attr("y1", 839).attr("y2", 843)
    .attr("stroke", SLATE).attr("shape-rendering", "crispEdges");
dateG.append("text")
    .attr("x", function(d, i) { return Math.floor(x(dateBars[i])); })
    .attr("y", 852)
    .text(function(d) { return d; });

// captions
svg.append("text").attr("x", 8).attr("y", 14).style("font-size", "7px").text("\u25BC");
svg.append("text").attr("x", 20).attr("y", 16).text("XAUUSD.s,H1 2465.29 2469.91 2464.95 2468.14");
svg.append("text").attr("x", 9.5).attr("y", 695.5).text("MACD(12,26,9) 1.334 0.652");
svg.append("text").attr("x", 10).attr("y", 780).text("Volumes 5722");

// the terminal font is narrower than anything installed, squeeze the glyphs
svg.selectAll("text").each(function() {
    var len = this.getComputedTextLength();
    d3.select(this).attr("textLength", len * 0.83).attr("lengthAdjust", "spacingAndGlyphs");
});
</script>
</body>
</html>
